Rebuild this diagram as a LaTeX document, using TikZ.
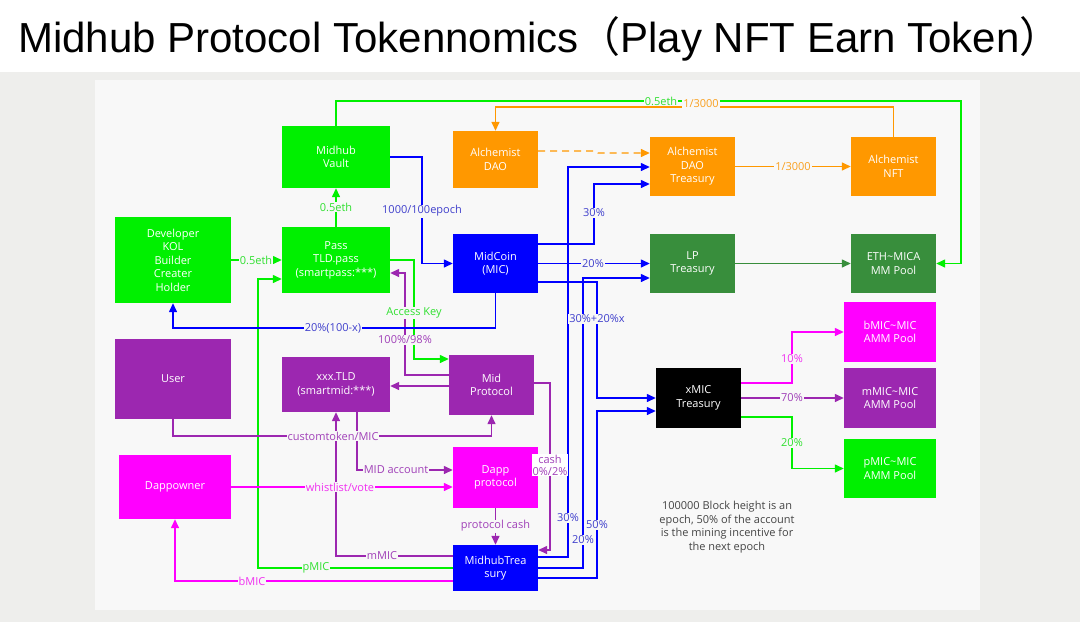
\documentclass[tikz,border=0pt]{standalone}
\usepackage{fontspec}
\setmainfont{Open Sans}
\newfontfamily\titlefont{Liberation Sans}
\newfontfamily\cjk{Noto Sans CJK SC}
\usetikzlibrary{arrows.meta}
\definecolor{cgreen}{HTML}{00F000}
\definecolor{corange}{HTML}{FF9800}
\definecolor{cblue}{HTML}{0000FF}
\definecolor{cpurple}{HTML}{9C27B0}
\definecolor{cmag}{HTML}{FF00FF}
\definecolor{cdgreen}{HTML}{388E3C}
\definecolor{lblue}{HTML}{4040CC}
\definecolor{lpurple}{HTML}{A040B8}
\definecolor{lgreen}{HTML}{30E030}
\definecolor{lmag}{HTML}{F030F0}
\definecolor{lorange}{HTML}{F8A020}
\definecolor{panel}{HTML}{F8F8F8}
\definecolor{outer}{HTML}{EEEEEC}
\definecolor{notegray}{HTML}{444444}
\tikzset{
  box/.style={draw=none, text=white, align=center, inner sep=0pt,
    font=\fontsize{11}{13.5}\selectfont},
  conn/.style={line width=1.4pt, -{Triangle[length=9pt,width=8pt]}},
  gline/.style={conn, draw=cgreen},
  bline/.style={conn, draw=cblue},
  pline/.style={conn, draw=cpurple},
  mline/.style={conn, draw=cmag},
  oline/.style={conn, draw=corange},
  dgline/.style={conn, draw=cdgreen},
  lab/.style={fill=panel, inner sep=1pt, font=\fontsize{11}{13}\selectfont, align=center},
}
\begin{document}
\begin{tikzpicture}[x=1pt,y=-1pt]
\useasboundingbox (0,0) rectangle (1080,622);
\fill[white] (0,0) rectangle (1080,622);
\fill[outer] (0,72) rectangle (1080,622);
\fill[panel] (95,80) rectangle (980,610);
\node[anchor=base west, inner sep=0pt, font=\fontsize{42}{46}\selectfont] (title) at (18,52)
  {\titlefont Midhub Protocol Tokennomics{\cjk （}Play NFT Earn Token{\cjk ）}};

% boxes
\node[box, fill=cgreen, minimum width=108, minimum height=62] (vault) at (336,157) {Midhub\\Vault};
\node[box, fill=cgreen, minimum width=108, minimum height=66] (pass) at (336,260) {Pass\\TLD.pass\\(smartpass:***)};
\node[box, fill=cgreen, minimum width=116, minimum height=86] (dev) at (173,260) {Developer\\KOL\\Builder\\Creater\\Holder};
\node[box, fill=cpurple, minimum width=116, minimum height=80] (user) at (173,379) {User};
\node[box, fill=cpurple, minimum width=108, minimum height=55] (tld) at (336,384.5) {xxx.TLD\\(smartmid:***)};
\node[box, fill=cmag, minimum width=112, minimum height=64] (downer) at (175,487) {Dappowner};
\node[box, fill=corange, minimum width=85, minimum height=57] (adao) at (495.5,159.5) {Alchemist\\DAO};
\node[box, fill=corange, minimum width=85, minimum height=59] (adt) at (692.5,166.5) {Alchemist\\DAO\\Treasury};
\node[box, fill=corange, minimum width=85, minimum height=59] (anft) at (893.5,166.5) {Alchemist\\NFT};
\node[box, fill=cblue, minimum width=85, minimum height=59] (mic) at (495.5,263.5) {MidCoin\\(MIC)};
\node[box, fill=cdgreen, minimum width=85, minimum height=59] (lpt) at (692.5,263.5) {LP\\Treasury};
\node[box, fill=cdgreen, minimum width=85, minimum height=59] (eth) at (893.5,263.5) {ETH\textasciitilde MICA\\MM Pool};
\node[box, fill=cpurple, minimum width=85, minimum height=60] (midp) at (491.5,385) {Mid\\Protocol};
\node[box, fill=cmag, minimum width=85, minimum height=61] (dapp) at (495.5,477.5) {Dapp\\protocol};
\node[box, fill=cblue, minimum width=85, minimum height=46] (mtreas) at (495.5,568) {MidhubTrea\\sury};
\node[box, fill=black, minimum width=85, minimum height=60] (xmic) at (698.5,398) {xMIC\\Treasury};
\node[box, fill=cmag, minimum width=92, minimum height=60] (bpool) at (890,332) {bMIC\textasciitilde MIC\\AMM Pool};
\node[box, fill=cpurple, minimum width=92, minimum height=60] (mpool) at (890,398) {mMIC\textasciitilde MIC\\AMM Pool};
\node[box, fill=cgreen, minimum width=92, minimum height=59] (ppool) at (890,468.5) {pMIC\textasciitilde MIC\\AMM Pool};

\node[align=center, text=notegray, inner sep=0pt, font=\fontsize{11}{13.5}\selectfont] (note) at (727,527)
  {100000 Block height is an\\epoch, 50\% of the account\\is the mining incentive for\\the next epoch};

% connectors
\draw[gline] (vault.north) -- (336,101) -- (961,101) -- (961,263.5) -- (eth.east);
\draw[oline] (anft.north) -- (893.5,107) -- (495.5,107) -- (adao.north);
\draw[bline] (vault.east) -- (422,157) -- (422,263.5) -- (mic.west);
\draw[gline] (pass.north) -- (vault.south);
\draw[gline] (dev.east) -- (pass.west);
\draw[gline] (mtreas.west |- 0,568) -- (258,568) -- (258,279) -- (pass.west |- 0,279);
\draw[gline] (pass.east |- 0,260) -- (414,260) -- (414,359) -- (midp.west |- 0,359);
\draw[pline] (midp.west |- 0,375) -- (405,375) -- (405,273) -- (pass.east |- 0,273);
\draw[pline] (midp.west |- 0,386) -- (tld.east |- 0,386);
\draw[pline] (user.south) -- (173,436) -- (491.5,436) -- (midp.south);
\draw[pline] (tld.south -| 357,0) -- (357,470) -- (dapp.west |- 0,470);
\draw[pline] (mtreas.west |- 0,556) -- (336,556) -- (tld.south);
\draw[mline] (downer.east) -- (dapp.west |- 0,487);
\draw[mline] (mtreas.west |- 0,581) -- (175,581) -- (downer.south);
\draw[pline] (midp.east |- 0,383) -- (550,383) -- (550,550) -- (mtreas.east |- 0,550);
\draw[pline] (dapp.south) -- (mtreas.north);
\draw[bline] (mic.south) -- (495.5,328) -- (173,328) -- (dev.south);
\draw[bline] (mic.east |- 0,244) -- (594,244) -- (594,184) -- (adt.west |- 0,184);
\draw[bline] (mic.east |- 0,263.5) -- (lpt.west);
\draw[bline] (mic.east |- 0,282) -- (597,282) -- (597,398) -- (xmic.west |- 0,398);
\draw[bline] (mtreas.east |- 0,557) -- (568,557) -- (568,167) -- (adt.west |- 0,167);
\draw[bline] (mtreas.east |- 0,568) -- (583,568) -- (583,278) -- (lpt.west |- 0,278);
\draw[bline] (mtreas.east |- 0,578) -- (597,578) -- (597,411) -- (xmic.west |- 0,411);
\draw[dgline] (lpt.east) -- (eth.west);
\draw[oline, dashed, dash pattern=on 7pt off 5pt] (adao.east |- 0,151) -- (594,151) -- (598,153) -- (adt.west |- 0,153);
\draw[oline] (adt.east) -- (anft.west);
\draw[mline] (xmic.east |- 0,383) -- (792,383) -- (792,332) -- (bpool.west);
\draw[pline] (xmic.east) -- (mpool.west);
\draw[gline] (xmic.east |- 0,417) -- (792,417) -- (792,468.5) -- (ppool.west);

% labels
\node[lab, text=lgreen] (l1) at (661,101) {0.5eth};
\node[lab, text=lorange] (l2) at (701,104) {1/3000};
\node[lab, text=lblue] (l3) at (422,211) {1000/100epoch};
\node[lab, text=lgreen] (l4) at (336,207) {0.5eth};
\node[lab, text=lgreen] (l5) at (256,260) {0.5eth};
\node[lab, text=lgreen] (l6) at (316,568) {pMIC};
\node[lab, text=lgreen] (l7) at (414,313) {Access Key};
\node[lab, text=lpurple] (l8) at (405,340) {100\%/98\%};
\node[lab, text=lpurple] (l9) at (333,436) {customtoken/MIC};
\node[lab, text=lpurple] (l10) at (396,470) {MID account};
\node[lab, text=lpurple] (l11) at (382,556) {mMIC};
\node[lab, text=lmag] (l12) at (340,487) {whistlist/vote};
\node[lab, text=lmag] (l13) at (252,581) {bMIC};
\node[lab, text=lpurple, fill=white, font=\fontsize{11}{12}\selectfont] (l14) at (550,465) {cash\\0\%/2\%};
\node[lab, text=lpurple] (l15) at (495.5,526) {protocol cash};
\node[lab, text=lblue] (l16) at (333,328) {20\%(100-x)};
\node[lab, text=lblue] (l17) at (594,213) {30\%};
\node[lab, text=lblue] (l18) at (593,263.5) {20\%};
\node[lab, text=lblue] (l19) at (597,319) {30\%+20\%x};
\node[lab, text=lblue] (l20) at (568,518) {30\%};
\node[lab, text=lblue] (l21) at (583,540) {20\%};
\node[lab, text=lblue] (l22) at (597,525) {50\%};
\node[lab, text=lorange] (l23) at (793,166.5) {1/3000};
\node[lab, text=lmag] (l24) at (792,359) {10\%};
\node[lab, text=lpurple] (l25) at (792,398) {70\%};
\node[lab, text=lgreen] (l26) at (792,443) {20\%};
\end{tikzpicture}
\end{document}
